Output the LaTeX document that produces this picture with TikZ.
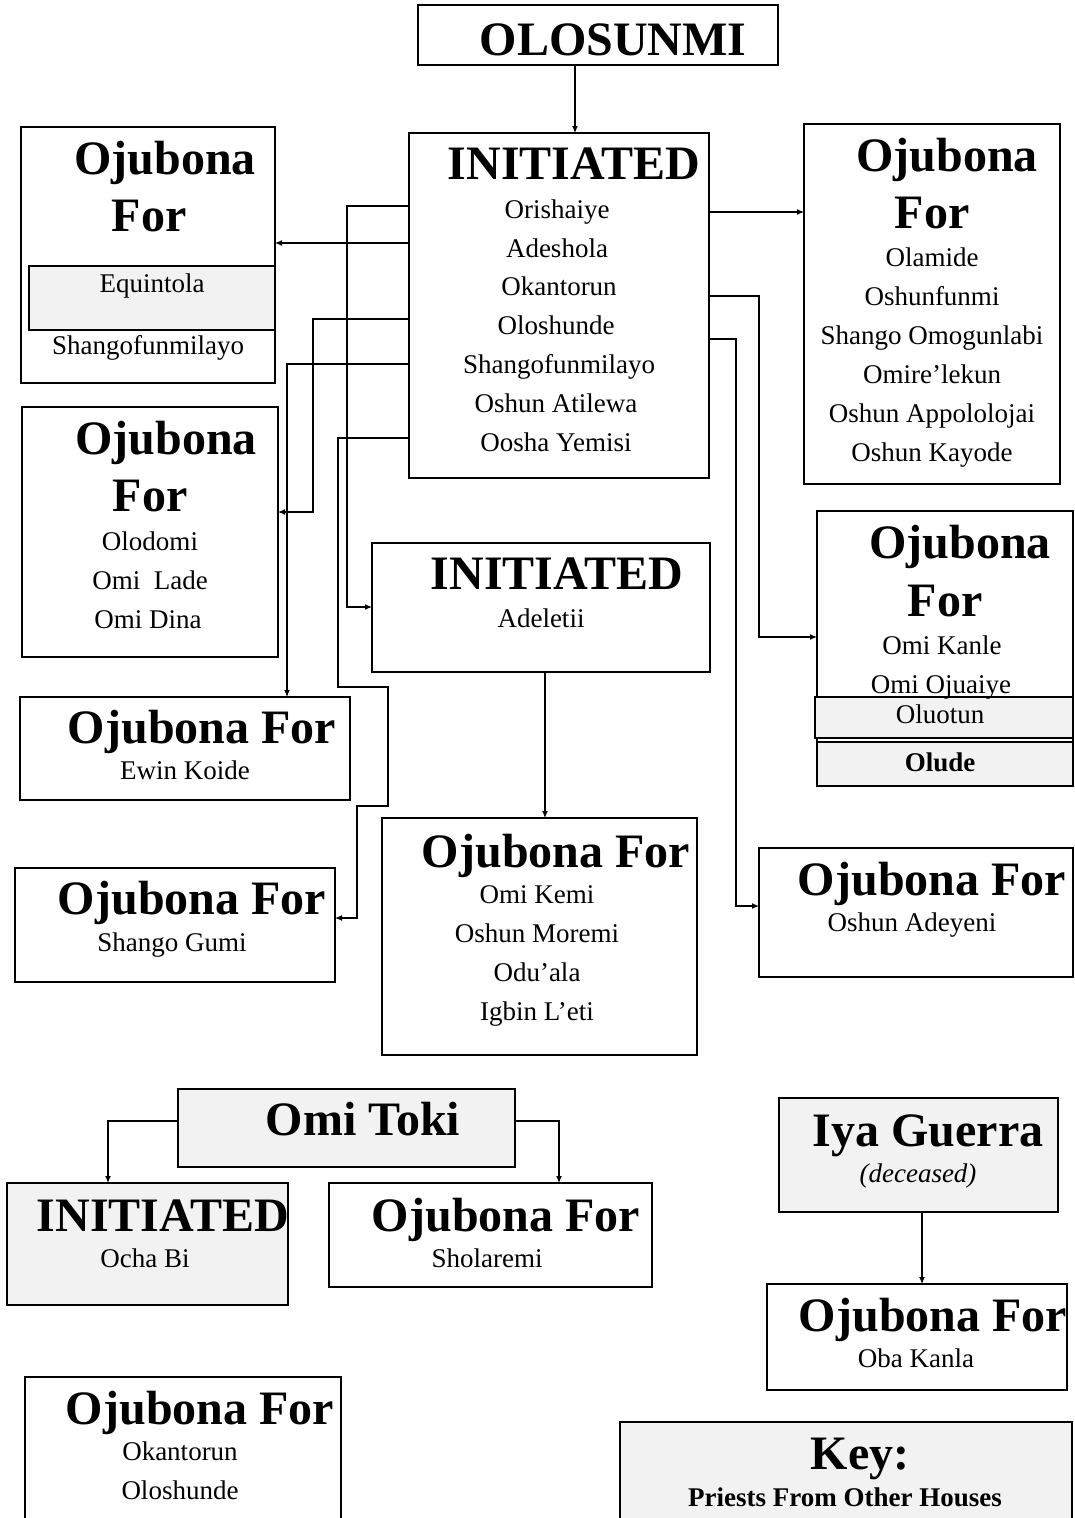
\documentclass[tikz,border=0pt]{standalone}
\usepackage{fontspec}
\setmainfont{Liberation Serif}
\usetikzlibrary{arrows.meta}
\tikzset{
  box/.style={draw=black, line width=1.6pt, inner sep=0pt, outer sep=0pt, anchor=north west},
  greybox/.style={box, fill=black!5},
  conn/.style={line width=1.2pt, -{Latex[length=7pt,width=6pt]}},
  ttl/.style={font=\fontsize{48}{48}\selectfont\bfseries, anchor=base, inner sep=0pt},
  nm/.style={font=\fontsize{27}{27}\selectfont, anchor=base, inner sep=0pt},
  nmb/.style={nm, font=\fontsize{27}{27}\selectfont\bfseries},
  nmi/.style={nm, font=\fontsize{27}{27}\selectfont\itshape},
}
\begin{document}
\begin{tikzpicture}[x=1pt,y=-1pt]
\useasboundingbox (0,0) rectangle (1074,1518);
\fill[white] (0,0) rectangle (1074,1518);
\clip (0,0) rectangle (1074,1518);

% ---- boxes ----
\node[box, minimum width=360pt, minimum height=60pt]  (olo)  at (418,5)   {};
\node[box, minimum width=300pt, minimum height=345pt] (ini)  at (409,133) {};
\node[box, minimum width=254pt, minimum height=256pt] (bx1)  at (21,127)  {};
\node[greybox, minimum width=246pt, minimum height=64pt] (equ) at (29,266) {};
\node[box, minimum width=256pt, minimum height=250pt] (bx2)  at (22,407)  {};
\node[box, minimum width=330pt, minimum height=103pt] (bx3)  at (20,697)  {};
\node[box, minimum width=338pt, minimum height=129pt] (adel) at (372,543) {};
\node[box, minimum width=315pt, minimum height=237pt] (kemi) at (382,818) {};
\node[box, minimum width=320pt, minimum height=114pt] (bx5)  at (15,868)  {};
\node[box, minimum width=256pt, minimum height=360pt] (bxr1) at (804,124) {};
\node[box, minimum width=256pt, minimum height=275pt] (bxr2) at (817,511) {};
\node[greybox, minimum width=258pt, minimum height=41pt] (oluo) at (815,697) {};
\node[greybox, minimum width=256pt, minimum height=44pt] (olud) at (817,742) {};
\node[box, minimum width=314pt, minimum height=129pt] (bxr3) at (759,848) {};
\node[greybox, minimum width=337pt, minimum height=78pt] (toki) at (178,1089) {};
\node[greybox, minimum width=281pt, minimum height=122pt] (ocha) at (7,1183) {};
\node[box, minimum width=323pt, minimum height=104pt] (shol) at (329,1183) {};
\node[greybox, minimum width=279pt, minimum height=114pt] (iya) at (779,1098) {};
\node[box, minimum width=300pt, minimum height=106pt] (oba)  at (767,1284) {};
\node[box, minimum width=316pt, minimum height=160pt] (okan) at (25,1377) {};
\node[greybox, minimum width=452pt, minimum height=110pt] (key) at (620,1422) {};

% ---- texts ----
\node[ttl] (oloT) at (613,55) {OLOSUNMI};

\node[ttl] (iniT) at (574,179) {INITIATED};
\node[nm] (ini1) at (557,218) {Orishaiye};
\node[nm] (ini2) at (557,257) {Adeshola};
\node[nm] (ini3) at (559,295) {Okantorun};
\node[nm] (ini4) at (556,334) {Oloshunde};
\node[nm] (ini5) at (559,373) {Shangofunmilayo};
\node[nm] (ini6) at (556,412) {Oshun Atilewa};
\node[nm] (ini7) at (556,451) {Oosha Yemisi};

\node[ttl] (bx1a) at (165,174) {Ojubona};
\node[ttl] (bx1b) at (149,231) {For};
\node[nm]  (bx1c) at (152,292) {Equintola};
\node[nm]  (bx1d) at (148,354) {Shangofunmilayo};

\node[ttl] (bx2a) at (166,454) {Ojubona};
\node[ttl] (bx2b) at (150,511) {For};
\node[nm]  (bx2c) at (150,550) {Olodomi};
\node[nm]  (bx2d) at (150,589) {Omi\ \ Lade};
\node[nm]  (bx2e) at (148,628) {Omi Dina};

\node[ttl] (bx3a) at (202,743) {Ojubona For};
\node[nm]  (bx3b) at (185,779) {Ewin Koide};

\node[ttl] (adelT) at (557,589) {INITIATED};
\node[nm]  (adel1) at (541,627) {Adeletii};

\node[ttl] (kemiT) at (556,867) {Ojubona For};
\node[nm]  (kemi1) at (537,903) {Omi Kemi};
\node[nm]  (kemi2) at (537,942) {Oshun Moremi};
\node[nm]  (kemi3) at (537,981) {Odu’ala};
\node[nm]  (kemi4) at (537,1020) {Igbin L’eti};

\node[ttl] (bx5a) at (192,914) {Ojubona For};
\node[nm]  (bx5b) at (172,951) {Shango Gumi};

\node[ttl] (r1a) at (947,171) {Ojubona};
\node[ttl] (r1b) at (932,228) {For};
\node[nm]  (r1c) at (932,266) {Olamide};
\node[nm]  (r1d) at (932,305) {Oshunfunmi};
\node[nm]  (r1e) at (932,344) {Shango Omogunlabi};
\node[nm]  (r1f) at (932,383) {Omire’lekun};
\node[nm]  (r1g) at (932,422) {Oshun Appololojai};
\node[nm]  (r1h) at (932,461) {Oshun Kayode};

\node[ttl] (r2a) at (960,558) {Ojubona};
\node[ttl] (r2b) at (945,616) {For};
\node[nm]  (r2c) at (942,654) {Omi Kanle};
\node[nm]  (r2d) at (941,693) {Omi Ojuaiye};
\node[nm]  (r2e) at (940,723) {Oluotun};
\node[nmb] (r2f) at (940,771) {Olude};

\node[ttl] (r3a) at (932,895) {Ojubona For};
\node[nm]  (r3b) at (912,931) {Oshun Adeyeni};

\node[ttl] (tokiT) at (363,1135) {Omi Toki};
\node[ttl] (ochaT) at (163,1231) {INITIATED};
\node[nm]  (ocha1) at (145,1267) {Ocha Bi};
\node[ttl] (sholT) at (506,1231) {Ojubona For};
\node[nm]  (shol1) at (487,1267) {Sholaremi};

\node[ttl] (iyaT) at (928,1146) {Iya Guerra};
\node[nmi] (iya1) at (918,1182) {(deceased)};
\node[ttl] (obaT) at (933,1331) {Ojubona For};
\node[nm]  (oba1) at (916,1367) {Oba Kanla};

\node[ttl] (okanT) at (200,1424) {Ojubona For};
\node[nm]  (okan1) at (180,1460) {Okantorun};
\node[nm]  (okan2) at (180,1499) {Oloshunde};

\node[ttl] (keyT) at (860,1469) {Key:};
\node[nmb] (key1) at (845,1506) {Priests From Other Houses};

% ---- connectors ----
\draw[conn] (olo.south -| 575,0) -- (ini.north -| 575,0);

% left side of the initiated list
\draw[conn] (ini.west |- 0,206) -- (347,206) |- (adel.west |- 0,607);
\draw[conn] (ini.west |- 0,243) -- (bx1.east |- 0,243);
\draw[conn] (ini.west |- 0,319) -- (313,319) |- (bx2.east |- 0,512);
\draw[conn] (ini.west |- 0,364) -| (bx3.north -| 287,0);
\draw[conn] (ini.west |- 0,438) -- (338,438) -- (338,687) -- (388,687)
            -- (388,806) -- (357,806) |- (bx5.east |- 0,918);

% right side of the initiated list
\draw[conn] (ini.east |- 0,212) -- (bxr1.west |- 0,212);
\draw[conn] (ini.east |- 0,296) -- (759,296) |- (bxr2.west |- 0,637);
\draw[conn] (ini.east |- 0,339) -- (736,339) |- (bxr3.west |- 0,906);

\draw[conn] (adel.south -| 545,0) -- (kemi.north -| 545,0);

% lower groups
\draw[conn] (toki.west |- 0,1121) -| (ocha.north -| 108,0);
\draw[conn] (toki.east |- 0,1121) -| (shol.north -| 559,0);
\draw[conn] (iya.south -| 922,0) -- (oba.north -| 922,0);
\end{tikzpicture}
\end{document}
